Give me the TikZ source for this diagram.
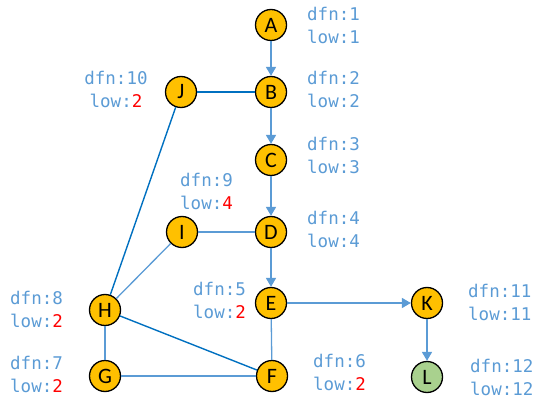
\documentclass[tikz,border=0pt]{standalone}
\usepackage{fontspec}
\setmainfont{Carlito}
\newfontfamily\lblfont{DejaVu Sans Mono}
\usetikzlibrary{arrows.meta}
\definecolor{nodefill}{HTML}{FFC000}
\definecolor{greenfill}{HTML}{A9D18E}
\definecolor{lightblue}{HTML}{5B9BD5}
\definecolor{darkblue}{HTML}{0070C0}
\definecolor{lowred}{HTML}{FF0000}
\tikzset{
  vtx/.style={circle, draw=black, line width=1.3pt, fill=nodefill, minimum size=31pt, inner sep=0pt, font=\fontsize{22}{22}\selectfont},
  vtxgreen/.style={vtx, fill=greenfill},
  lbl/.style={text=lightblue, font=\lblfont\fontsize{17.5}{23}\selectfont, align=left, inner sep=0pt},
  lblc/.style={lbl, align=center},
  treeedge/.style={draw=lightblue, line width=1.6pt, -{Triangle[length=9pt,width=10pt]}},
  lightedge/.style={draw=lightblue, line width=1.3pt},
  darkedge/.style={draw=darkblue, line width=1.4pt},
}
\newcommand{\rd}[1]{\textcolor{lowred}{#1}}
\begin{document}
\begin{tikzpicture}[x=1pt,y=-1pt]
\useasboundingbox (0,0) rectangle (548,403);
\node[vtx] (A) at (271,25) {A};
\node[vtx] (B) at (271,92) {B};
\node[vtx] (C) at (271,160) {C};
\node[vtx] (D) at (271,232) {D};
\node[vtx] (E) at (271,303) {E};
\node[vtx] (F) at (272,376) {F};
\node[vtx] (G) at (105,376) {G};
\node[vtx] (H) at (105,310) {H};
\node[vtx] (I) at (182,232) {I};
\node[vtx] (J) at (181,92) {J};
\node[vtx] (K) at (427,303) {K};
\node[vtxgreen] (L) at (427,377) {L};

\draw[treeedge] (A) -- (B);
\draw[treeedge] (B) -- (C);
\draw[treeedge] (C) -- (D);
\draw[treeedge] (D) -- (E);
\draw[treeedge] (E) -- (K);
\draw[treeedge] (K) -- (L);
\draw[darkedge] (J) -- (B);
\draw[darkedge] (J) -- (H);
\draw[darkedge] (H) -- (F);
\draw[lightedge] (I) -- (D);
\draw[lightedge] (I) -- (H);
\draw[lightedge] (H) -- (G);
\draw[lightedge] (G) -- (F);
\draw[lightedge] (E) -- (F);

\node[lbl, anchor=west] (lA) at (307,25) {dfn:1\\low:1};
\node[lbl, anchor=west] (lB) at (307,89) {dfn:2\\low:2};
\node[lbl, anchor=west] (lC) at (307,155) {dfn:3\\low:3};
\node[lbl, anchor=west] (lD) at (307,229) {dfn:4\\low:4};
\node[lbl, anchor=west] (lE) at (193,300) {dfn:5\\low:\rd{2}};
\node[lbl, anchor=west] (lF) at (313,372) {dfn:6\\low:\rd{2}};
\node[lbl, anchor=west] (lG) at (10,374) {dfn:7\\low:\rd{2}};
\node[lbl, anchor=west] (lH) at (10,309) {dfn:8\\low:\rd{2}};
\node[lbl, anchor=west] (lI) at (180,191) {dfn:9\\low:\rd{4}};
\node[lblc] (lJ) at (116,89) {dfn:10\\low:\rd{2}};
\node[lbl, anchor=west] (lK) at (468,302) {dfn:11\\low:11};
\node[lbl, anchor=west] (lL) at (470,377) {dfn:12\\low:12};
\end{tikzpicture}
\end{document}
